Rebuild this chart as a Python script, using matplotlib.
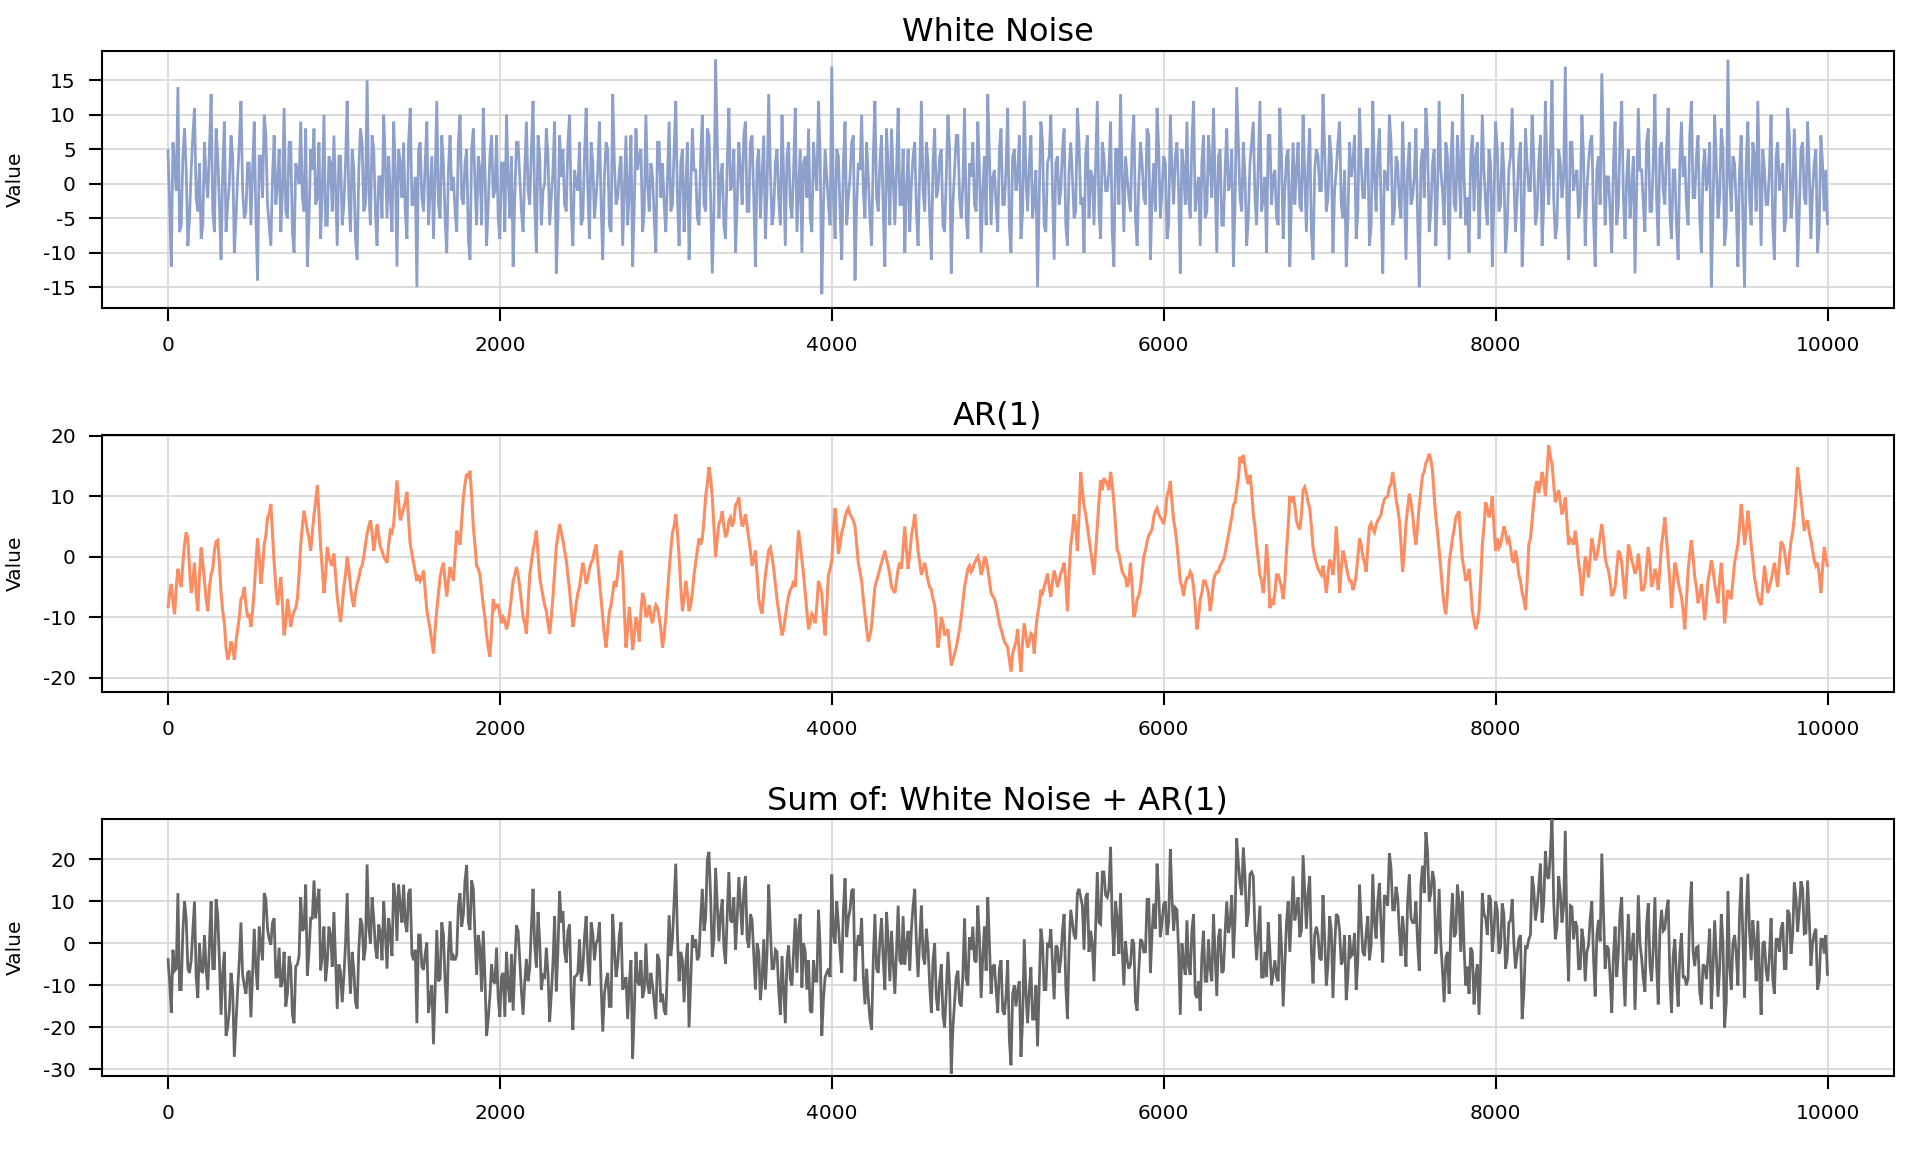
import numpy as np
import matplotlib
matplotlib.use("Agg")
import matplotlib.pyplot as plt

# ---------------- data ----------------
# samples at t = 0, 20, 40, ..., 10000  ("_a") and at t = 10, 30, ..., 9990 ("_b")
n_obs = 10000

white_noise_a = [
    5, -12, 3, 14, -6, 8, -9, 2, 11, -4, -8, 6, -2, 13, -7, 4, -11, 9, -3, 7, -10, 1, 12, -5, 3,
    -6, 9, -14, 4, 10, -3, -9, 7, 0, -7, 11, -5, 6, -10, 2, 9, -4, -12, 5, 8, -2, -8, 10, -6, 3,
    7, -9, 4, -3, 12, -7, 2, -11, 8, -4, 15, -6, 5, -9, 1, 10, -5, -2, 9, -12, 3, 6, -8, 11, -3,
    -15, 6, -4, 9, -1, -8, 12, -5, 3, -10, 7, 1, -7, 10, -3, 5, -11, 8, -6, 2, 11, -9, 4, -2, 7,
    -8, 3, 10, -5, -12, 6, 1, -7, 9, -3, 12, -10, 4, -1, 8, -6, 2, -13, 7, 5, -4, 10, -9, 0, 6,
    -5, 11, -8, 3, -2, 9, -11, 6, -6, 13, -3, 2, -9, 7, -1, -12, 8, 4, -7, 10, -4, 1, -10, 6, 3,
    -7, 9, -3, 12, -9, 5, -1, -11, 8, 2, -6, 10, -4, 7, -13, 18, -5, 3, -8, 11, 0, -10, 6, -3, 9,
    -4, 7, -12, 5, 1, -8, 13, -6, 3, -2, 10, -9, 6, -5, 11, -1, -10, 4, 8, -7, 2, 12, -16, 5, -3,
    17, -8, 4, -11, 9, -2, 6, -14, 3, 10, -5, 1, -9, 12, -4, 7, -12, 2, 8, -6, 11, -3, -10, 5, 0,
    6, -9, 12, -4, 3, -11, 8, -1, 5, -7, 10, -13, 2, 7, -5, 11, -8, 1, -3, 9, -10, 4, 13, -6, 2,
    -7, 8, -3, 11, -10, 5, 1, -8, 12, -4, 7, -2, -15, 9, -6, 3, 10, -11, 4, -1, 8, -9, 6, -5, 11,
    -3, -10, 7, 2, -6, 12, -8, 4, -1, 9, -12, 5, 13, -7, 1, -4, 10, -9, 6, -2, 8, -11, 3, 11, -5,
    4, -8, 10, -3, 6, -13, 2, 9, -5, 12, -1, -9, 7, -4, 3, 11, -10, 5, -6, 8, 0, -12, 14, -2, 6,
    -9, 3, 9, -6, 12, -2, -10, 7, 1, -5, 11, -8, 4, -12, 6, 2, -3, 10, -7, 8, -11, 5, -1, 13, -4,
    7, -10, 2, 9, -5, -12, 6, 3, -8, 11, -2, 5, -9, 12, -4, 8, -13, 1, 10, -6, 4, -3, 9, -11, 6,
    -2, 8, -15, 5, 11, -7, 3, -9, 12, -1, 6, -11, 9, -4, 2, 13, -6, -10, 7, 4, -8, 10, -3, 5, -12,
    9, -4, 6, -10, 2, 11, -7, 4, -12, 8, -1, 10, -6, 3, -9, 12, -3, 15, -8, 5, -2, 17, -11, 6, 1,
    -5, 10, -9, 3, 7, -12, 4, 16, -6, 1, -10, 9, -3, 12, -8, 5, -1, -13, 11, 2, -7, 8, -4, 13, -9,
    6, -3, 11, -8, 2, -11, 9, 4, -6, 12, -2, 7, -10, 5, 1, -15, 10, -5, 8, -9, 18, -4, 3, -12, 7,
    -15, 9, -6, 4, 12, -9, 2, -3, 10, -11, 6, 1, -7, 11, -5, 8, -12, 5, -2, 9, -8, 3, -10, 7, -4,
    -6,
]

white_noise_b = [
    -3, 6, -1, -7, 4, 2, -5, 7, -2, 3, -6, 1, 5, -4, 8, -3, 2, -7, 0, 4, -5, 6, -1, -4, 3,
    2, -5, 4, -2, 7, -6, 1, -3, 5, -1, -4, 6, -7, 3, 0, -2, 8, -5, 2, -3, 6, -1, -6, 4, -4,
    -1, 4, -6, 3, -2, 5, -8, 2, 6, -3, -1, 7, -4, 1, -5, 3, 4, -7, 2, 5, -2, -4, 6, -3, 1,
    5, -2, 3, -6, 4, 1, -3, 7, -5, 2, -1, -4, 6, -2, 3, -8, 5, 0, 4, -6, 2, -3, 7, -1, -5,
    3, -7, 1, 4, -2, 6, -4, 2, -1, 5, -3, 7, -6, 0, 4, -2, 9, -5, 1, -3, 6, -4, 2, -1, -6,
    4, -1, 6, -5, 2, -3, 1, 5, -7, 3, -2, 4, -1, -6, 7, -3, 2, 5, -4, 0, 3, -5, 6, -2, -3,
    1, -4, 5, -2, 3, -7, 6, -1, 2, -5, 4, -3, 8, -2, -4, 6, 1, -6, 3, -1, 5, -3, 2, 7, -4,
    6, -2, 3, -5, 7, -1, 2, -4, 5, -6, 1, 4, -3, 2, -7, 5, 3, -2, -5, 6, -1, 4, -3, 1, -6,
    -2, 5, -4, 3, -6, 1, 7, -3, 2, -1, 6, -5, 4, -2, 3, -4, 8, -6, 1, 2, -3, 5, -1, -7, 4,
    -4, 2, -1, 6, -5, 3, -2, 4, -6, 1, 5, -3, 7, -2, 0, -5, 3, 6, -4, 2, -1, -6, 4, 1, -3,
    5, -3, 2, -6, 4, -1, 7, -4, 1, 3, -5, 2, -2, 6, -7, 4, -1, 3, -3, 5, -6, 2, 1, -4, 6,
    -2, 4, -5, 1, 3, -4, 6, -1, 2, -7, 5, -3, 1, 4, -2, 6, -5, 0, 3, -3, 7, -2, -4, 5, -1,
    3, -6, 2, 4, -1, 5, -3, -2, 6, -4, 1, 3, -5, 7, -2, 0, 4, -6, 2, -1, 5, -3, 6, -4, 1,
    -5, 6, -2, 3, -4, 1, 7, -3, 2, -6, 4, -1, 5, -2, -3, 6, -4, 1, 3, -7, 2, 4, -1, 5, -2,
    4, -1, 6, -3, 2, -5, 1, 7, -4, 3, -2, 5, -6, 1, 4, -3, 2, -1, 6, -4, 3, -5, 0, 2, -3,
    1, -5, 3, -2, 6, -4, 5, -1, 2, -6, 4, 3, -3, 7, -5, 1, -2, 4, -4, 6, -1, 2, -6, 3, -2,
    5, -3, 2, -6, 4, 1, -2, 6, -5, 3, -1, 4, -4, 7, -3, 2, 5, -2, -6, 3, 1, -4, 6, -1, 2,
    -3, 4, -1, 6, -5, 2, -3, 5, 1, -4, 3, -6, 7, -2, 1, -5, 4, -1, 2, -3, 6, -4, 3, -2, 5,
    -1, 5, -4, 2, -6, 3, 1, -3, 7, -2, 4, -5, 2, -1, 6, -4, 3, -2, 5, -6, 1, 4, -3, 2, -5,
    3, -2, 6, -4, 1, 5, -3, 2, -6, 4, -1, 3, -5, 7, -2, 1, -4, 6, -3, 2, -1, 5, -6, 3, 2,
]

ar1_a = [
    # t = 0 - 2540
    -8.5, -4.5, -9.5, -2, -5, 2, 3, -6, -1, -9, 1.5, -4, -9, -3, 1, 2.7, -6, -11, -17, -14,
    -17, -12, -7, -5, -10, -11.6, -5.5, 3, -4.5, 2, 6.5, 8.7, -1, -8, -3.4, -13, -7, -11.6, -9, -7,
    2, 7.6, 4.3, 1, 7, 11.8, 1.6, -6, 1.6, -1, 0.5, -6.6, -10.8, -5, 0, -5, -8.3, -4.5, -2, 0,
    3.8, 6, 1, 5.4, 1.6, 0, -1, 4.3, 5.4, 12.6, 6, 8, 10.7, 2, -1, -4, -4, -2.3, -8.8, -12,
    -16, -8.8, -3.4, -1, -6.6, -1.7, -4, 4.3, 2, 9.8, 13.7, 14.2, 5, -1.5, -3, -8, -13, -16.5, -7, -8,
    -9.5, -10, -12, -9, -4, -1.7, -5, -10, -12.7, -3, 1, 4.3, -3.4, -6.6, -9, -12.7, -6.6, 1.6, 5.4, 2.7,
    -0.6, -5.5, -11.6, -7.7, -5, -1, -4.5, -2,
    # t = 2560 - 5060
    -0.5, 2, -4, -10, -15, -9, -6, -5, 0, -2, -15, -8.3, -15.4, -10, -14, -6, -10, -8, -11, -8,
    -10, -15, -10, -2.3, 4, 7, 0, -9, -4, -9, -6, -1, 3, 3, 10, 14.8, 9.8, 0, 5.5, 7.5,
    3.2, 6, 5, 8.5, 9.8, 5, 7, 3, -1.5, 1, -7, -9.4, -3, 1, 0, -4.5, -9, -13, -10, -6.5,
    -5, -5, 4.3, -0.5, -6, -12, -9.5, -11, -4, -6, -13, -3, -0.6, 8, 0.5, 4, 6.5, 8, 6.5, 5,
    -1, -4, -9.5, -14, -11.5, -5, -3, -1, 1, -1.5, -5, -6, -2, -2, 5, -2, 3.5, 7, 1, -3,
    -1, -4, -5.5, -8, -15, -10, -13, -12, -18, -16, -13.5, -10, -5, -2, -2.5, -1, 0, -3, 0, -2,
    -6, -7, -9.5, -12, -14, -15,
    # t = 5080 - 7600
    -19, -15, -12, -19, -11, -15, -12.7, -16, -9.5, -5.5, -5, -2.8, -6.6, -2.3, -5, -2.8, -1, -9, 2, 7,
    1, 14, 8.5, 5, 1, -3, 5, 12.6, 13, 12, 14, 9, 1, -1, -3, -5, -1, -10, -7, -5,
    0, 2.5, 4, 6.5, 8, 6.5, 5.4, 10, 12.5, 6, 2, -4, -6.5, -3.5, -2.5, -5, -12, -7, -4, -5,
    -9, -4, -2.5, -1.5, -0.5, 2, 5, 8.5, 11, 16.5, 16.8, 13, 13.5, 7, 2, -3, -6, 2, -8.5, -8,
    -3, -4, -7, 1, 10, 10, 6, 4.5, 11, 10.5, 8, 1.5, -1, -2.5, -1.5, -6, -0.5, -3, 5, -6,
    1, -1.5, -4, -5.5, -3, 3, 0, -2.5, 5, 4.5, 5.2, 6.4, 8.5, 9.8, 11.5, 14, 9.5, 6, -2.5, 5.5,
    10.4, 7, 2, 8.5, 13.5, 15.5, 17,
    # t = 7620 - 10000
    14.2, 6.5, 1, -5.5, -9.5, -1, 3, 6.5, 7.5, -0.5, -4, -2, -9, -12, -9, 2, 9, 6.5, 10, 1,
    1.5, 3.5, 4, 3, -0.5, 1, -3, -6, -8.8, 2, 6, 11.5, 10.5, 14, 10, 18.4, 15.3, 9, 11, 7,
    9.8, 2, 2.7, 4.3, -1, -6.5, 0, -3.4, 3, -0.6, 1.6, 5.4, 0, -2.3, -6.5, -5, 1, -1, -7, 2,
    -0.6, -2.8, 0.5, -5.5, -4.5, 1.6, -5, -2, -5.5, 2, 6.5, -0.6, -8.5, -1, -4, -6.6, -12, -2.3, 2.7, -3.4,
    -7.7, -4.5, -10.5, -4, -0.6, -4.5, -7.7, -1, -11, -5.5, -7, -1, 2, 8.7, 2, 7.6, 2, -3.4, -6.6, -8,
    -1.5, -6, -4, -1, -5, 2.5, 1, -3, 2.5, 6.5, 14.8, 9.8, 4.3, 6, 2.7, -0.6, -1, -6, 1.6, -1.7,
]

ar1_b = [
    # t = 10 - 2550
    -6, -7.5, -5, -4, -1, 4, -2, -4, -6, -3, -1, -7, -5, -2, 2.5, -1, -9, -15, -16, -15,
    -14, -10, -6.5, -8, -9.5, -9, -1, 0, -2, 3.5, 7, 4, -5, -6, -8, -11, -9, -10, -8.5, -3,
    5, 6, 3, 4, 9, 7, -2, -3, 0, -1.5, -3, -9, -8, -3, -2, -7, -6, -3.5, -1.5, 2,
    5, 4, 3, 3.5, 1, -0.5, 2, 4, 9, 9, 7, 9, 6, 0.5, -2.5, -3, -3.5, -5.5, -10.5, -14,
    -12, -6, -2, -4, -4, -3, 0, 3, 6, 12, 13, 10, 2, -2, -5.5, -10, -15, -12, -8.5, -8,
    -11, -10.5, -11, -6.5, -3, -3, -7.5, -11, -8, -1, 2.5, 0.5, -5, -8, -11, -10, -2.5, 3.5, 4, 1,
    -3, -8.5, -10, -6, -3, -2.5, -3.5, -1,
    # t = 2570 - 5050
    1, -1, -7, -13, -12, -8, -4, -3, 1, -9, -12, -11, -13, -11, -9, -7, -9.5, -10, -9, -8.5,
    -12, -13, -6, 1, 5, 4, -5, -7, -6, -8, -3, 1, 2, 6, 12, 13, 5, 3, 6, 5,
    4, 6.5, 6, 9, 7, 5.5, 5, 1, -0.5, -3, -8.5, -6, -1, 1.5, -2, -7, -11, -12, -8, -5.5,
    -4, 0, 2, -3, -9, -11, -10, -8, -5, -10, -8, -2, 4, 5, 2, 5, 7.5, 7, 6, 2,
    -2.5, -7, -12, -13, -8, -4, -2, 0, -0.5, -3, -5.5, -4, -1, 1.5, 1, 0.5, 5, 4, -1, -2,
    -2.5, -5, -7, -11, -13, -11, -12.5, -15, -17, -15, -12, -7.5, -3.5, -1.5, -2, -0.5, -1, -2, -0.5, -4,
    -6.5, -8, -11, -13, -14.5, -17,
    # t = 5090 - 7610
    -16, -14, -16, -14, -13, -14, -13, -12, -8, -6, -4, -5, -4, -3.5, -4, -2, -4, -3, 4, 5,
    7, 11, 7, 3, -1, 1, 9, 11, 12.5, 11, 12, 5, 0.5, -2.5, -3.5, -4, -5, -9, -6.5, -2.5,
    1, 3.5, 4.5, 7.5, 7, 6, 7, 11, 9, 4.5, -1, -5, -4.5, -3.5, -3, -8, -10, -6, -4, -6,
    -7, -3, -2.5, -1, 0.5, 3.5, 6.5, 9, 13, 15.5, 15, 12, 11, 5, -0.5, -4, -3, -2, -7, -6,
    -3, -5, -4, 5, 9, 8.5, 5, 7, 11.5, 9, 5, 0, -2, -3, -3.5, -3, -1, 0, 0.5, -2,
    0, -3, -4, -4.5, 0, 2, -1, 1.5, 5.5, 4, 6, 7, 9.5, 10, 12, 12, 8, 2, 1, 8,
    9, 4, 5, 11, 14, 16, 16,
    # t = 7630 - 9990
    10, 4, -2, -8, -6, 1, 4.5, 7, 3, -2, -3.5, -5, -10.5, -11, -4, 5, 8, 7.5, 5, 3,
    2, 5, 2.5, 1.5, -1, -0.5, -4, -7, -4, 3, 9, 12.5, 12, 12.5, 14, 16.5, 12, 10, 9, 8,
    6, 3, 2, 2, -3, -3.5, -1, 0, 1.5, 0, 3.5, 3, -1.5, -4, -6, -2, 0.5, -4, -3, 1,
    -1.5, -2, -2, -5.5, -1.5, -1, -4, -3, -2, 4, 3, -4, -5, -2, -5.5, -9, -7, 0.5, 0, -5,
    -6.5, -7, -7.5, -2.5, -2, -6, -4, -5, -8, -6.5, -4, 0.5, 5, 6, 4, 5, -0.5, -5, -7.5, -5,
    -3.5, -5, -2.5, -3, -1, 2, -1, 0, 4, 10, 12, 7, 5.5, 4, 1, -1.5, -3, -2, 0,
]

titles = ["White Noise", "AR(1)", "Sum of: White Noise + AR(1)"]
colors = ["#8DA0CB", "#FC8D62", "#666666"]
yticks_list = [[-15, -10, -5, 0, 5, 10, 15], [-20, -10, 0, 10, 20], [-30, -20, -10, 0, 10, 20]]
ylims = [(-17.96, 19.29), (-22.3, 20.16), (-31.5, 29.7)]
xticks = [0, 2000, 4000, 6000, 8000, 10000]

# ---------------- assemble series on the common time grid ----------------
t = np.arange(0, n_obs + 1, 10)
wn = np.empty(t.size)
wn[0::2] = white_noise_a
wn[1::2] = white_noise_b
ar = np.empty(t.size)
ar[0::2] = ar1_a
ar[1::2] = ar1_b
total = wn + ar
series = [wn, ar, total]
widths = [2.0, 2.2, 2.0]

# ---------------- figure ----------------
plt.rcParams['font.family'] = ['DejaVu Sans']
fig = plt.figure(figsize=(19.2, 11.52), dpi=100)

left, width, height = 0.0529, 0.9335, 0.2231
bottoms = [0.7329, 0.3996, 0.0662]

for i in range(3):
    ax = fig.add_axes([left, bottoms[i], width, height])
    ax.plot(t, series[i], color=colors[i], lw=widths[i], zorder=3,
            solid_joinstyle='miter', solid_capstyle='butt')
    ax.set_xlim(-400, 10400)
    ax.set_ylim(*ylims[i])
    ax.set_xticks(xticks)
    ax.set_yticks(yticks_list[i])
    ax.set_xticklabels([str(v) for v in xticks])
    ax.set_yticklabels([str(v) for v in yticks_list[i]])
    ax.grid(True, color="#D9D9D9", lw=1.3, zorder=0)
    ax.set_axisbelow(True)
    for sp in ax.spines.values():
        sp.set_linewidth(1.5)
        sp.set_color("black")
    ax.tick_params(axis='both', direction='out', length=9.5, width=1.5,
                   labelsize=14.5, color='black')
    ax.tick_params(axis='x', pad=11)
    ax.tick_params(axis='y', pad=9)
    ax.set_title(titles[i], fontsize=23, pad=7)
    ax.set_ylabel("Value", fontsize=14.5)
    ax.yaxis.set_label_coords(-0.0427, 0.5)

fig.savefig("out.png", dpi=100)
